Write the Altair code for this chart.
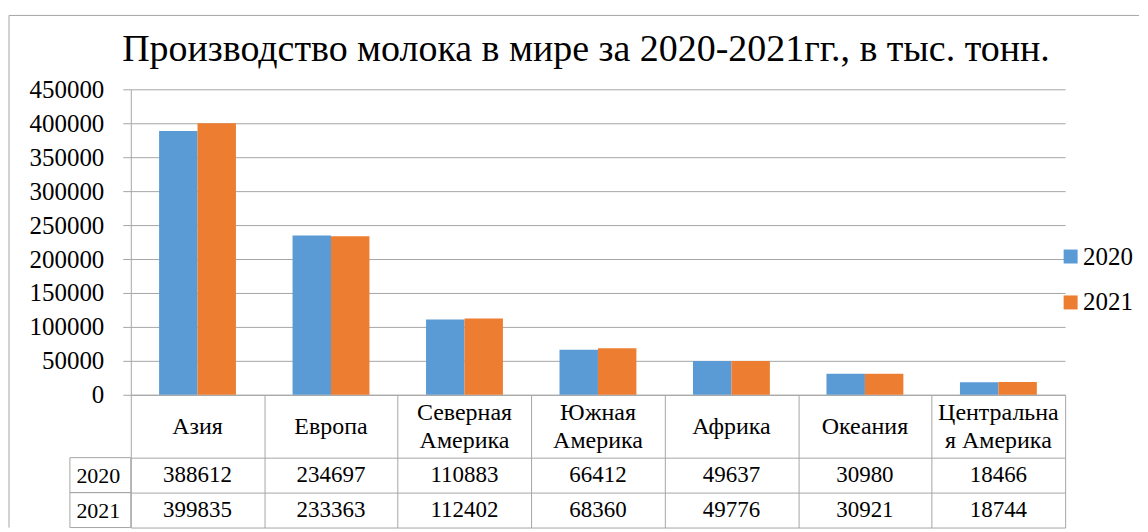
import altair as alt
import pandas as pd

# ---- data ----
regions = ["Азия", "Европа", "Северная|Америка", "Южная|Америка", "Африка", "Океания", "Центральна|я Америка"]
years = ["2020", "2021"]
values_2020 = [388612, 234697, 110883, 66412, 49637, 30980, 18466]
values_2021 = [399835, 233363, 112402, 68360, 49776, 30921, 18744]
colors = ["#5B9BD5", "#ED7D31"]
y_ticks = [0, 50000, 100000, 150000, 200000, 250000, 300000, 350000, 400000, 450000]
chart_title = "Производство молока в мире за 2020-2021гг., в тыс. тонн."

rows = []
for i, r in enumerate(regions):
    rows.append({"region": r, "year": years[0], "value": values_2020[i]})
    rows.append({"region": r, "year": years[1], "value": values_2021[i]})
df = pd.DataFrame(rows)
df_regions = pd.DataFrame({"region": regions})
df_years = pd.DataFrame({"year": years})
df_one = pd.DataFrame({"k": [0]})

# ---- style ----
FONT = "Liberation Serif, Times New Roman, DejaVu Serif, serif"
GRID = "#A6A6A6"
W = 936
H = 306
CAT_ROW = 63
ROW = 35

# ---- bars ----
bars = alt.Chart(df).mark_bar().encode(
    x=alt.X("region:N", sort=regions, title=None,
            scale=alt.Scale(paddingInner=0.424, paddingOuter=0.212),
            axis=alt.Axis(labels=False, ticks=False, domain=True,
                          domainColor=GRID, grid=False)),
    xOffset=alt.XOffset("year:N", sort=years,
                        scale=alt.Scale(paddingInner=0, paddingOuter=0)),
    y=alt.Y("value:Q", title=None,
            scale=alt.Scale(domain=[0, 450000], nice=False),
            axis=alt.Axis(values=y_ticks, format="d", labelFont=FONT,
                          labelFontSize=25, labelColor="black", labelPadding=19,
                          tickSize=8, tickColor=GRID, domainColor=GRID,
                          gridColor=GRID)),
    color=alt.Color("year:N", sort=years,
                    scale=alt.Scale(domain=years, range=colors),
                    legend=alt.Legend(title=None, orient="none", legendX=929,
                                      legendY=155, symbolType="square",
                                      symbolSize=196, symbolStrokeWidth=0,
                                      labelFont=FONT, labelFontSize=25,
                                      labelColor="black", labelOffset=0,
                                      rowPadding=20, padding=0)),
).properties(
    width=W, height=H,
    title=alt.TitleParams(text=chart_title, font=FONT, fontSize=38,
                          fontWeight="normal", color="black", anchor="middle",
                          dx=-12, offset=8),
)

# ---- category row of the data table ----
cat_x = alt.X("region:N", sort=regions, title=None,
              scale=alt.Scale(paddingInner=0, paddingOuter=0),
              axis=alt.Axis(labels=False, ticks=False, domain=False, grid=True,
                            tickBand="extent", gridColor=GRID))
catrow = alt.Chart(df_regions).transform_calculate(
    lines="split(datum.region, '|')"
).transform_calculate(
    n="length(datum.lines)"
).transform_flatten(
    ["lines"], as_=["line"]
).transform_window(
    idx="row_number()", groupby=["region"]
).transform_calculate(
    pos="datum.idx - 1 - (datum.n - 1) / 2"
).mark_text(font=FONT, fontSize=24, color="black", baseline="middle").encode(
    x=cat_x,
    y=alt.Y("pos:Q", scale=alt.Scale(domain=[-1.154, 1.084], reverse=True), axis=None),
    text="line:N",
).properties(width=W, height=CAT_ROW)

# ---- value rows of the data table ----
tbl_x = alt.X("region:N", sort=regions, title=None,
              scale=alt.Scale(paddingInner=0, paddingOuter=0),
              axis=alt.Axis(labels=False, ticks=False, domain=False, grid=True,
                            tickBand="extent", gridColor=GRID))
tbl_y = alt.Y("year:N", sort=years, title=None,
              scale=alt.Scale(paddingInner=0, paddingOuter=0),
              axis=alt.Axis(ticks=False, domain=False, grid=True,
                            tickBand="extent", gridColor=GRID, labelFont=FONT,
                            labelFontSize=22, labelColor="black",
                            labelAlign="center", labelBaseline="middle",
                            labelPadding=33))

cells = alt.Chart(df).mark_text(font=FONT, fontSize=23, color="black").encode(
    x=tbl_x, y=tbl_y, text=alt.Text("value:Q", format="d"))

header = alt.Chart(df_years).mark_rect(fillOpacity=0, stroke=GRID, strokeWidth=1).encode(
    x=alt.value(-61), x2=alt.value(0), y=alt.Y("year:N", sort=years))

frame_top = alt.Chart(df_one).mark_rule(color=GRID, strokeWidth=1).encode(
    x=alt.value(-122), x2=alt.value(1010), y=alt.value(-443))
frame_left = alt.Chart(df_one).mark_rule(color=GRID, strokeWidth=1).encode(
    x=alt.value(-122), y=alt.value(-443), y2=alt.value(70))

table = alt.layer(cells, header, frame_top, frame_left).properties(
    width=W, height=2 * ROW)

chart = alt.vconcat(bars, catrow, table, spacing=0, bounds="flush").resolve_scale(
    x="independent", y="independent"
).resolve_legend(color="independent").properties(
    padding={"left": 0, "top": 6, "right": 0, "bottom": 0}
).configure_view(stroke=None).configure_axis(gridWidth=1, tickWidth=1, domainWidth=1)

chart.save("out.html", embed_options={"renderer": "svg", "actions": False})
